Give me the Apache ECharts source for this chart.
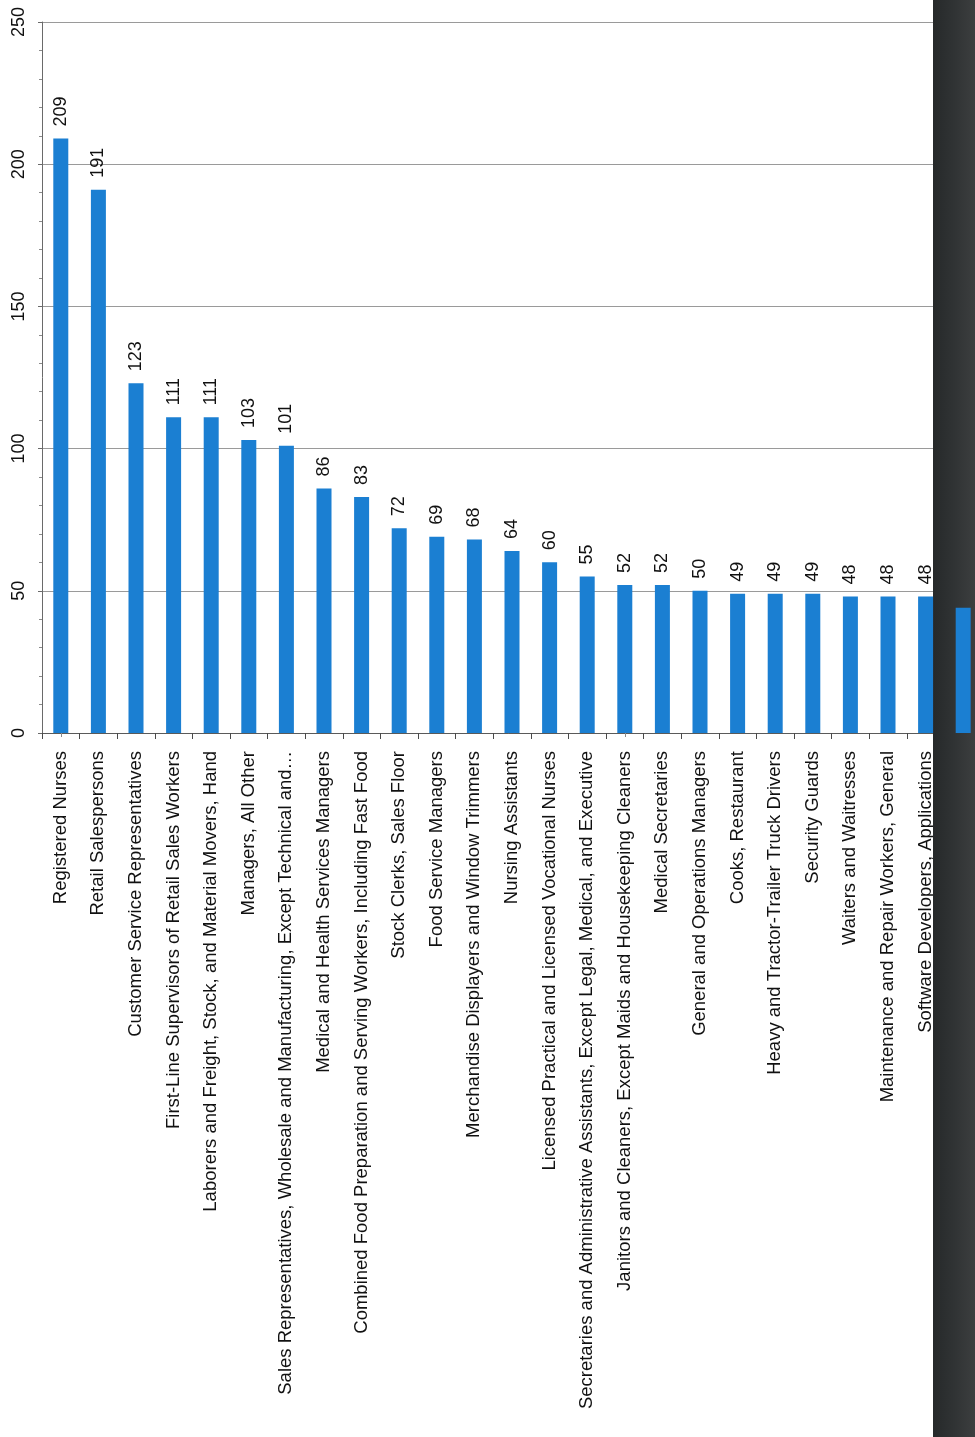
<!DOCTYPE html>
<html>
<head>
<meta charset="utf-8">
<style>
  html, body { margin: 0; padding: 0; background: #ffffff; }
  #chart { width: 975px; height: 1437px; }
</style>
<script src="https://cdn.jsdelivr.net/npm/echarts@6/dist/echarts.min.js"></script>
</head>
<body>
<div id="chart"></div>
<script>
// Occupations, ordered by count
const occupations = [
  'Registered Nurses',
  'Retail Salespersons',
  'Customer Service Representatives',
  'First-Line Supervisors of Retail Sales Workers',
  'Laborers and Freight, Stock, and Material Movers, Hand',
  'Managers, All Other',
  'Sales Representatives, Wholesale and Manufacturing, Except Technical and…',
  'Medical and Health Services Managers',
  'Combined Food Preparation and Serving Workers, Including Fast Food',
  'Stock Clerks, Sales Floor',
  'Food Service Managers',
  'Merchandise Displayers and Window Trimmers',
  'Nursing Assistants',
  'Licensed Practical and Licensed Vocational Nurses',
  'Secretaries and Administrative Assistants, Except Legal, Medical, and Executive',
  'Janitors and Cleaners, Except Maids and Housekeeping Cleaners',
  'Medical Secretaries',
  'General and Operations Managers',
  'Cooks, Restaurant',
  'Heavy and Tractor-Trailer Truck Drivers',
  'Security Guards',
  'Waiters and Waitresses',
  'Maintenance and Repair Workers, General',
  'Software Developers, Applications',
  ''
];

const counts = [209, 191, 123, 111, 111, 103, 101, 86, 83, 72, 69, 68, 64, 60, 55, 52, 52, 50, 49, 49, 49, 48, 48, 48, 44];

// index of the last bar, whose label sits under the dark edge band
const hiddenLabelIndex = 24;

const valueTicks = { min: 0, max: 250, interval: 50 };

const FONT = '"Liberation Sans", Arial, sans-serif';
const BAR_BLUE = '#1b7fd2';
const TEXT = '#111111';

const chart = echarts.init(document.getElementById('chart'), null, { renderer: 'canvas' });

const seriesData = counts.map((v, i) => (
  i === hiddenLabelIndex ? { value: v, label: { show: false } } : v
));

chart.setOption({
  animation: false,
  backgroundColor: '#ffffff',
  // the plot runs slightly past the right edge of the page
  grid: { left: 42, width: 940, top: 22, bottom: 704, outerBoundsMode: 'none', containLabel: false },
  xAxis: [
    {
      type: 'category',
      data: occupations,
      axisLine: { show: true, lineStyle: { color: '#5a5a5a', width: 1 } },
      axisTick: { show: true, alignWithLabel: false, length: 6, lineStyle: { color: '#4a4a4a' } },
      axisLabel: {
        interval: 0,
        rotate: 90,
        margin: 18,
        color: TEXT,
        fontFamily: FONT,
        fontSize: 18.5
      },
      splitLine: { show: false }
    },
    {
      type: 'category',
      data: occupations,
      position: 'bottom',
      axisLine: { show: false },
      axisTick: { show: true, alignWithLabel: true, length: 4, lineStyle: { color: '#8a8a8a' } },
      axisLabel: { show: false },
      splitLine: { show: false }
    }
  ],
  yAxis: {
    type: 'value',
    min: valueTicks.min,
    max: valueTicks.max,
    interval: valueTicks.interval,
    axisLine: { show: true, lineStyle: { color: '#6a6a6a', width: 1 } },
    axisTick: { show: true, length: 4, lineStyle: { color: '#6a6a6a' } },
    minorTick: { show: true, splitNumber: 5, length: 3, lineStyle: { color: '#8a8a8a' } },
    axisLabel: {
      rotate: 90,
      margin: 14,
      color: TEXT,
      fontFamily: FONT,
      fontSize: 18
    },
    splitLine: { show: true, lineStyle: { color: '#9a9a9a', width: 1 } }
  },
  graphic: [
    {
      // dark band along the right edge
      type: 'rect',
      z: 1,
      shape: { x: 933, y: 0, width: 42, height: 1437 },
      style: {
        fill: {
          type: 'linear', x: 0, y: 0, x2: 1, y2: 0,
          colorStops: [
            { offset: 0, color: '#26292a' },
            { offset: 0.5, color: '#303334' },
            { offset: 1, color: '#3c3e3f' }
          ]
        }
      }
    }
  ],
  series: [
    {
      type: 'bar',
      xAxisIndex: 0,
      data: seriesData,
      barWidth: 15,
      itemStyle: { color: BAR_BLUE },
      z: 2,
      label: {
        show: true,
        position: 'top',
        rotate: 90,
        align: 'left',
        verticalAlign: 'middle',
        distance: 12,
        color: TEXT,
        fontFamily: FONT,
        fontSize: 18
      }
    }
  ]
});
</script>
</body>
</html>
